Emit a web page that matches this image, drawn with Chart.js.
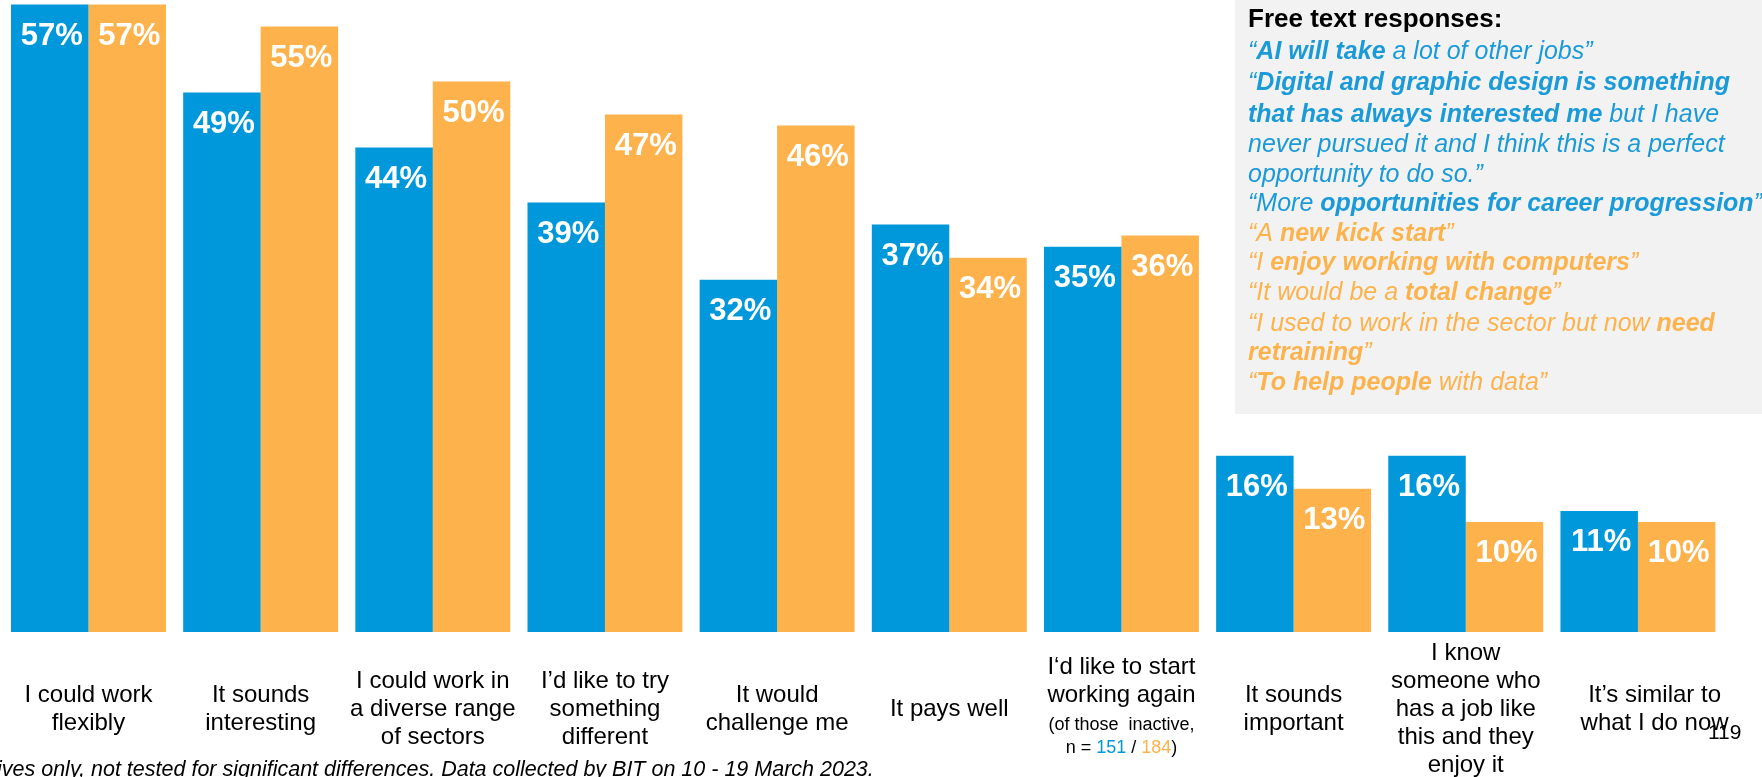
<!DOCTYPE html>
<html>
<head>
<meta charset="utf-8">
<script src="https://cdn.jsdelivr.net/npm/chart.js@4"></script>
<style>
  html, body { margin: 0; padding: 0; background: #fff; }
  #wrap { width: 1762px; height: 777px; position: relative; }
</style>
</head>
<body>
<div id="wrap"><canvas id="chart"></canvas></div>
<script>
const FONT = '"Liberation Sans", Arial, sans-serif';
const BLUE = '#0098da';
const ORANGE = '#fdb24b';

const categories = [
    ['I could work', 'flexibly'],
    ['It sounds', 'interesting'],
    ['I could work in', 'a diverse range', 'of sectors'],
    ['I’d like to try', 'something', 'different'],
    ['It would', 'challenge me'],
    ['It pays well'],
    ['I‘d like to start', 'working again', '', ''],
    ['It sounds', 'important'],
    ['I know', 'someone who', 'has a job like', 'this and they', 'enjoy it'],
    ['     It’s similar to', '     what I do now']
];
const blueValues = [57, 49, 44, 39, 32, 37, 35, 16, 16, 11];
const orangeValues = [57, 55, 50, 47, 46, 34, 36, 13, 10, 10];

// quotes in the side panel: [text, bold] runs per line
const panelTitle = 'Free text responses:';
const blueQuotes = [
    [['“', false], ['AI will take', true], [' a lot of other jobs”', false]],
    [['“', false], ['Digital and graphic design is something', true]],
    [['that has always interested me', true], [' but I have', false]],
    [['never pursued it and I think this is a perfect', false]],
    [['opportunity to do so.”', false]],
    [['“More ', false], ['opportunities for career progression', true], ['”', false]]
];
const orangeQuotes = [
    [['“A ', false], ['new kick start', true], ['”', false]],
    [['“I ', false], ['enjoy working with computers', true], ['”', false]],
    [['“It would be a ', false], ['total change', true], ['”', false]],
    [['“I used to work in the sector but now ', false], ['need', true]],
    [['retraining', true], ['”', false]],
    [['“', false], ['To help people', true], [' with data”', false]]
];
const panelLineY = [20, 52, 83, 115, 145, 175, 204.5, 234, 263, 293, 324, 353, 383];
const footnote = 'ives only, not tested for significant differences. Data collected by BIT on 10 - 19 March 2023.';
const pageNumber = '119';

// white percentage inside the top of each bar
const barValueLabels = {
    id: 'barValueLabels',
    afterDatasetsDraw(chart) {
        const ctx = chart.ctx;
        ctx.save();
        ctx.fillStyle = '#fff';
        ctx.font = 'bold 31px ' + FONT;
        ctx.textAlign = 'center';
        ctx.textBaseline = 'middle';
        chart.data.datasets.forEach((ds, i) => {
            chart.getDatasetMeta(i).data.forEach((bar, j) => {
                ctx.fillText(ds.data[j] + '%', bar.x + 2, bar.y + 32);
            });
        });
        ctx.restore();
    }
};

function drawRuns(ctx, runs, x, y, color) {
    ctx.fillStyle = color;
    runs.forEach(([text, bold]) => {
        ctx.font = 'italic ' + (bold ? 'bold ' : '') + '25px ' + FONT;
        ctx.fillText(text, x, y);
        x += ctx.measureText(text).width;
    });
}

const extras = {
    id: 'extras',
    afterDraw(chart) {
        const ctx = chart.ctx;
        const xs = chart.scales.x;
        ctx.save();

        // sample size note under the "start working again" label
        const cx = xs.getPixelForValue(6);
        ctx.font = '18px ' + FONT;
        ctx.textBaseline = 'middle';
        ctx.textAlign = 'center';
        ctx.fillStyle = '#000';
        ctx.fillText('(of those  inactive,', cx, 725);
        const parts = [['n = ', '#000'], ['151', BLUE], [' / ', '#000'], ['184', ORANGE], [')', '#000']];
        const total = parts.reduce((w, p) => w + ctx.measureText(p[0]).width, 0);
        let px = cx - total / 2;
        ctx.textAlign = 'left';
        parts.forEach(([t, c]) => {
            ctx.fillStyle = c;
            ctx.fillText(t, px, 748);
            px += ctx.measureText(t).width;
        });

        // free text panel
        ctx.fillStyle = '#f2f2f2';
        ctx.fillRect(1235, 0, 527, 414);
        ctx.textAlign = 'left';
        ctx.textBaseline = 'middle';
        ctx.fillStyle = '#000';
        ctx.font = 'bold 26px ' + FONT;
        ctx.fillText(panelTitle, 1248, panelLineY[0]);
        blueQuotes.forEach((line, k) => drawRuns(ctx, line, 1248, panelLineY[1 + k], '#1b9ad8'));
        orangeQuotes.forEach((line, k) => drawRuns(ctx, line, 1248, panelLineY[7 + k], '#fdb34d'));

        // footnote and page number
        ctx.fillStyle = '#000';
        ctx.font = 'italic 21.5px ' + FONT;
        ctx.textBaseline = 'alphabetic';
        ctx.fillText(footnote, -3, 776);
        ctx.font = '21px ' + FONT;
        ctx.textBaseline = 'middle';
        ctx.fillText(pageNumber, 1708, 733);
        ctx.restore();
    }
};

new Chart(document.getElementById('chart'), {
    type: 'bar',
    data: {
        labels: categories,
        datasets: [
            { data: blueValues, backgroundColor: BLUE },
            { data: orangeValues, backgroundColor: ORANGE }
        ]
    },
    options: {
        responsive: true,
        maintainAspectRatio: false,
        animation: false,
        events: [],
        layout: { padding: { left: 2.4, right: 38, top: 0, bottom: 0 } },
        datasets: { bar: { categoryPercentage: 0.9, barPercentage: 1.0 } },
        plugins: { legend: { display: false }, tooltip: { enabled: false } },
        scales: {
            x: {
                grid: { display: false, drawTicks: false },
                border: { display: false },
                ticks: {
                    color: '#000',
                    font: { family: FONT, size: 24, lineHeight: '28px' },
                    crossAlign: 'center',
                    padding: 21,
                    maxRotation: 0,
                    autoSkip: false
                },
                afterFit(scale) { scale.height = 145; }
            },
            y: {
                display: false,
                min: 0,
                max: 57.4
            }
        }
    },
    plugins: [barValueLabels, extras]
});
</script>
</body>
</html>
